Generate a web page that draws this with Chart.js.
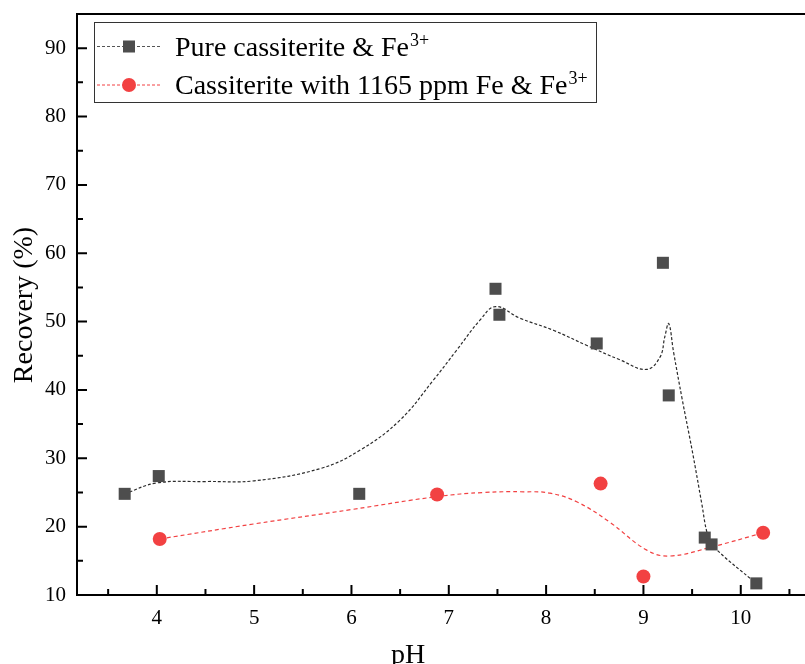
<!DOCTYPE html>
<html>
<head>
<meta charset="utf-8">
<script src="https://cdn.jsdelivr.net/npm/chart.js@4.4.1/dist/chart.umd.min.js"></script>
<style>
  html, body { margin: 0; padding: 0; background: #fff; overflow: hidden; }
</style>
</head>
<body>
<canvas id="chart" width="805" height="664"></canvas>
<script>
// measured points
const pureX = [3.67, 4.02, 6.08, 7.48, 7.52, 8.52, 9.20, 9.26, 9.63, 9.70, 10.16];
const pureY = [24.8, 27.4, 24.8, 54.8, 51.0, 46.8, 58.6, 39.2, 18.4, 17.4, 11.7];
const feX = [4.03, 6.88, 8.56, 9.00, 10.23];
const feY = [18.2, 24.7, 26.3, 12.7, 19.1];

// fitted curves
const pureFitX = [3.67, 4.0, 4.5, 5.0, 5.68, 6.09, 6.5, 6.84, 7.08, 7.32, 7.48, 7.73, 8.08, 8.42, 8.76, 9.03, 9.17, 9.22, 9.26, 9.31, 9.4, 9.5, 9.6, 9.65, 9.70, 10.16];
const pureFitY = [24.8, 26.4, 26.6, 26.7, 28.5, 31.2, 35.6, 41.4, 45.8, 50.2, 52.2, 50.5, 48.7, 46.5, 44.4, 43.0, 44.8, 47.8, 49.7, 45.5, 38.5, 31.2, 23.3, 19.3, 17.4, 11.65];
const feFitX = [4.03, 5.0, 6.0, 6.88, 7.36, 7.77, 8.04, 8.32, 8.65, 9.03, 9.27, 9.72, 10.23];
const feFitY = [18.2, 20.4, 22.5, 24.4, 25.0, 25.1, 24.9, 23.6, 20.7, 16.6, 15.7, 17.1, 19.1];

const xTicks = [4, 5, 6, 7, 8, 9, 10];
const xMinor = [3.5, 4.5, 5.5, 6.5, 7.5, 8.5, 9.5, 10.5];
const yTicks = [10, 20, 30, 40, 50, 60, 70, 80, 90];
const yMinor = [15, 25, 35, 45, 55, 65, 75, 85];
const names = ["Pure cassiterite & Fe", "Cassiterite with 1165 ppm Fe & Fe"];

const FONT = "'Liberation Serif', 'Times New Roman', serif";
const GREY = "#4d4d4d";
const RED = "#f24142";

const pts = (xs, ys) => xs.map((x, i) => ({ x: x, y: ys[i] }));

// axis lines + inward ticks
const axesPlugin = {
  id: "axes",
  afterDatasetsDraw(chart) {
    const { ctx, chartArea: a, scales: { x, y } } = chart;
    ctx.save();
    ctx.strokeStyle = "#000";
    ctx.lineWidth = 2;
    ctx.beginPath();
    ctx.moveTo(a.left, a.top);
    ctx.lineTo(a.right, a.top);
    ctx.moveTo(a.left, a.top - 1);
    ctx.lineTo(a.left, a.bottom + 1);
    ctx.moveTo(a.left - 1, a.bottom);
    ctx.lineTo(a.right, a.bottom);
    ctx.stroke();
    ctx.beginPath();
    xTicks.forEach(v => { const p = x.getPixelForValue(v); ctx.moveTo(p, a.bottom); ctx.lineTo(p, a.bottom - 10); });
    xMinor.forEach(v => { const p = x.getPixelForValue(v); ctx.moveTo(p, a.bottom); ctx.lineTo(p, a.bottom - 6); });
    yTicks.forEach(v => { const p = y.getPixelForValue(v); ctx.moveTo(a.left, p); ctx.lineTo(a.left + 10, p); });
    yMinor.forEach(v => { const p = y.getPixelForValue(v); ctx.moveTo(a.left, p); ctx.lineTo(a.left + 6, p); });
    ctx.stroke();

    // axis titles
    ctx.fillStyle = "#000";
    ctx.font = "28px " + FONT;
    ctx.textAlign = "center";
    ctx.textBaseline = "alphabetic";
    ctx.fillText("pH", 408, 663);
    ctx.translate(32, 305);
    ctx.rotate(-Math.PI / 2);
    ctx.fillText("Recovery (%)", 0, 0);
    ctx.restore();
  }
};

// legend box like the original one
const legendPlugin = {
  id: "boxLegend",
  afterDraw(chart) {
    const ctx = chart.ctx;
    ctx.save();
    ctx.fillStyle = "#fff";
    ctx.fillRect(94.5, 22.5, 502, 80);
    ctx.strokeStyle = "#333";
    ctx.lineWidth = 1;
    ctx.strokeRect(94.5, 22.5, 502, 80);
    const rows = [46.5, 85];
    rows.forEach((ry, i) => {
      ctx.setLineDash([3, 2]);
      ctx.strokeStyle = i === 0 ? "#555" : RED;
      ctx.beginPath();
      ctx.moveTo(97, ry);
      ctx.lineTo(160, ry);
      ctx.stroke();
      ctx.setLineDash([]);
      ctx.fillStyle = i === 0 ? GREY : RED;
      if (i === 0) {
        ctx.fillRect(123, ry - 6, 12, 12);
      } else {
        ctx.beginPath();
        ctx.arc(129, ry, 7, 0, Math.PI * 2);
        ctx.fill();
      }
      ctx.fillStyle = "#000";
      ctx.font = "28px " + FONT;
      ctx.textAlign = "left";
      ctx.textBaseline = "alphabetic";
      const base = ry + 9;
      ctx.fillText(names[i], 175, base);
      const w = ctx.measureText(names[i]).width;
      ctx.font = "18px " + FONT;
      ctx.fillText("3+", 175 + w + 1, base - 10);
    });
    ctx.restore();
  }
};

function noPad(s) {
  s.paddingTop = 0;
  s.paddingBottom = 0;
  s.paddingLeft = 0;
  s.paddingRight = 0;
}

new Chart(document.getElementById("chart"), {
  type: "scatter",
  data: {
    datasets: [
      {
        label: names[0],
        data: pts(pureX, pureY),
        pointStyle: "rect",
        pointRadius: 8.5,
        pointBackgroundColor: GREY,
        pointBorderColor: GREY,
        pointBorderWidth: 0,
        showLine: false,
        order: 0
      },
      {
        label: names[1],
        data: pts(feX, feY),
        pointStyle: "circle",
        pointRadius: 7,
        pointBackgroundColor: RED,
        pointBorderColor: RED,
        pointBorderWidth: 0,
        showLine: false,
        order: 1
      },
      {
        label: "fit1",
        data: pts(pureFitX, pureFitY),
        showLine: true,
        pointRadius: 0,
        borderColor: "#2a2a2a",
        borderWidth: 1.2,
        borderDash: [3, 2],
        tension: 0.4,
        order: 2
      },
      {
        label: "fit2",
        data: pts(feFitX, feFitY),
        showLine: true,
        pointRadius: 0,
        borderColor: RED,
        borderWidth: 1.2,
        borderDash: [4, 3],
        tension: 0.4,
        order: 3
      }
    ]
  },
  options: {
    responsive: false,
    animation: false,
    devicePixelRatio: 1,
    layout: { autoPadding: false, padding: { top: 14, right: 0, left: 0, bottom: 0 } },
    plugins: { legend: { display: false }, tooltip: { enabled: false } },
    scales: {
      x: {
        type: "linear",
        min: 3.18,
        max: 10.66,
        afterBuildTicks: s => { s.ticks = xTicks.map(v => ({ value: v })); },
        afterFit: s => { s.height = 69; noPad(s); },
        grid: { display: false, drawTicks: false },
        border: { display: false },
        ticks: { color: "#000", font: { family: FONT, size: 21 }, padding: 11, maxRotation: 0 }
      },
      y: {
        type: "linear",
        min: 10,
        max: 95,
        afterBuildTicks: s => { s.ticks = yTicks.map(v => ({ value: v })); },
        afterFit: s => { s.width = 77; noPad(s); },
        grid: { display: false, drawTicks: false },
        border: { display: false },
        ticks: { color: "#000", font: { family: FONT, size: 21 }, padding: 11 }
      }
    }
  },
  plugins: [axesPlugin, legendPlugin]
});
</script>
</body>
</html>
